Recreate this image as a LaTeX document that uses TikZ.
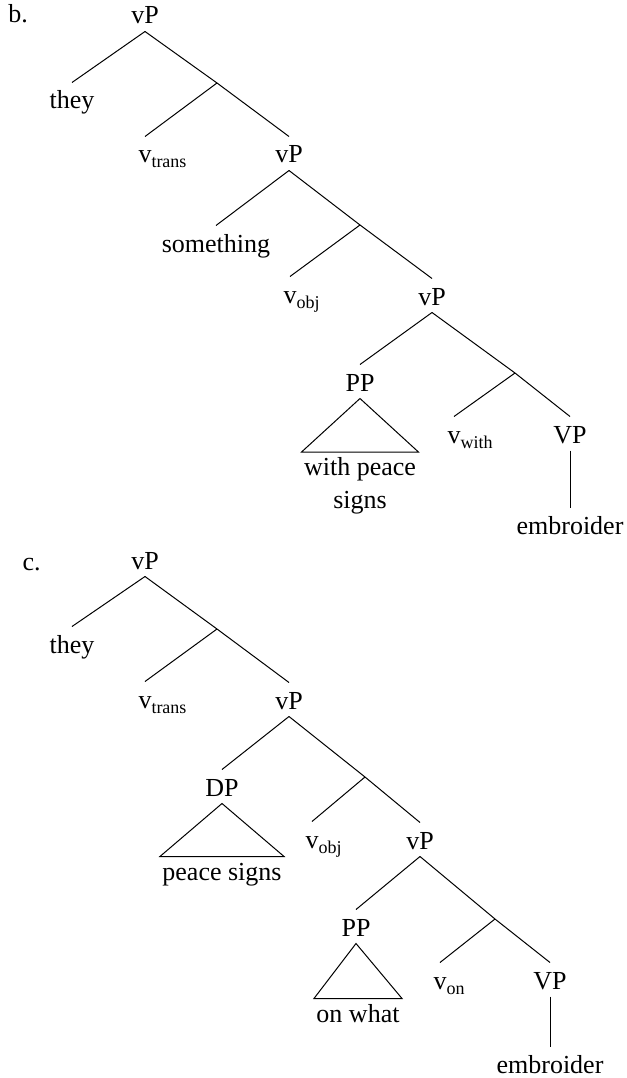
\documentclass[tikz,border=0pt]{standalone}
\usepackage{fontspec}
\setmainfont{Liberation Serif}
\usepackage{tikz}
\usetikzlibrary{positioning}
\tikzstyle{cat} = [anchor=base, inner xsep=0pt, inner ysep=0pt, text height=26pt, text depth=7pt]
\tikzstyle{leaf} = [cat, text height=23pt, inner xsep=2pt, align=center]
\tikzstyle{longleaf} = [anchor=north, inner xsep=2pt, inner ysep=0pt, align=center]
\newcommand{\lilv}[1]{v\rlap{\raisebox{-5pt}{\fontsize{18}{20}\selectfont #1}}}

\begin{document}
\begin{tikzpicture}[x=1pt, y=-1pt, line width=1pt, font=\fontsize{26}{33}\selectfont]
	\useasboundingbox (0,0) rectangle (626,1078);

	% tree b
	\node (bLabel) [anchor=base west, inner sep=0pt] at (8,23) {b.};
	\node (bRoot) [cat] at (145,24) {vP};
	\node (bThey) [cat] at (72,109) {they};
	\coordinate (bJoin1) at (217,83);
	\node (bTrans) [cat] at (145,163) {\lilv{trans}};
	\node (bVP2) [cat] at (289,163) {vP};
	\draw (bRoot.south) -- (bThey.north);
	\draw (bRoot.south) -- (bJoin1) -- (bVP2.north);
	\draw (bJoin1) -- (bTrans.north);

	% object layer
	\node (bSome) [cat] at (216,252) {something};
	\coordinate (bJoin2) at (360,225);
	\node (bObj) [cat] at (290,303) {\lilv{obj}};
	\node (bVP3) [cat] at (432,305) {vP};
	\draw (bVP2.south) -- (bSome.north);
	\draw (bVP2.south) -- (bJoin2) -- (bVP3.north);
	\draw (bJoin2) -- (bObj.north);

	% with layer
	\node (bPP) [cat] at (360,391) {PP};
	\node (bLeafPP) [longleaf] at (360,452) {\rule{0pt}{23pt}with peace\\signs};
	\coordinate (bJoin3) at (515,373);
	\node (bWith) [cat] at (454,443) {\lilv{with}};
	\node (bVP) [cat] at (570,443) {VP};
	\node (bEmb) [cat] at (570,534) {embroider};
	\draw (bVP3.south) -- (bPP.north);
	\draw (bPP.south) -- (bLeafPP.north west) -- (bLeafPP.north east) -- cycle;
	\draw (bVP3.south) -- (bJoin3) -- (bVP.north);
	\draw (bJoin3) -- (bWith.north);
	\draw (bVP.south) -- (bEmb.north);

	% tree c
	\node (cLabel) [anchor=base west, inner sep=0pt] at (22,570) {c.};
	\node (cRoot) [cat] at (145,569) {vP};
	\node (cThey) [cat] at (72,653) {they};
	\coordinate (cJoin1) at (217,629);
	\node (cTrans) [cat] at (145,708) {\lilv{trans}};
	\node (cVP2) [cat] at (289,709) {vP};
	\draw (cRoot.south) -- (cThey.north);
	\draw (cRoot.south) -- (cJoin1) -- (cVP2.north);
	\draw (cJoin1) -- (cTrans.north);

	% object layer
	\node (cDP) [cat] at (222,796) {DP};
	\node (cLeafDP) [leaf] at (222,880) {peace signs};
	\coordinate (cJoin2) at (365,777);
	\node (cObj) [cat] at (312,848) {\lilv{obj}};
	\node (cVP3) [cat] at (420,849) {vP};
	\draw (cVP2.south) -- (cDP.north);
	\draw (cDP.south) -- (cLeafDP.north west) -- (cLeafDP.north east) -- cycle;
	\draw (cVP2.south) -- (cJoin2) -- (cVP3.north);
	\draw (cJoin2) -- (cObj.north);

	% on layer
	\node (cPP) [cat] at (356,936) {PP};
	\node (cLeafPP) [leaf] at (358,1022) {on what};
	\coordinate (cJoin3) at (495,919);
	\node (cOn) [cat] at (440,989) {\lilv{on}};
	\node (cVP) [cat] at (550,989) {VP};
	\node (cEmb) [cat] at (550,1073) {embroider};
	\draw (cVP3.south) -- (cPP.north);
	\draw (cPP.south) -- (cLeafPP.north west) -- (cLeafPP.north east) -- cycle;
	\draw (cVP3.south) -- (cJoin3) -- (cVP.north);
	\draw (cJoin3) -- (cOn.north);
	\draw (cVP.south) -- (cEmb.north);
\end{tikzpicture}
\end{document}
